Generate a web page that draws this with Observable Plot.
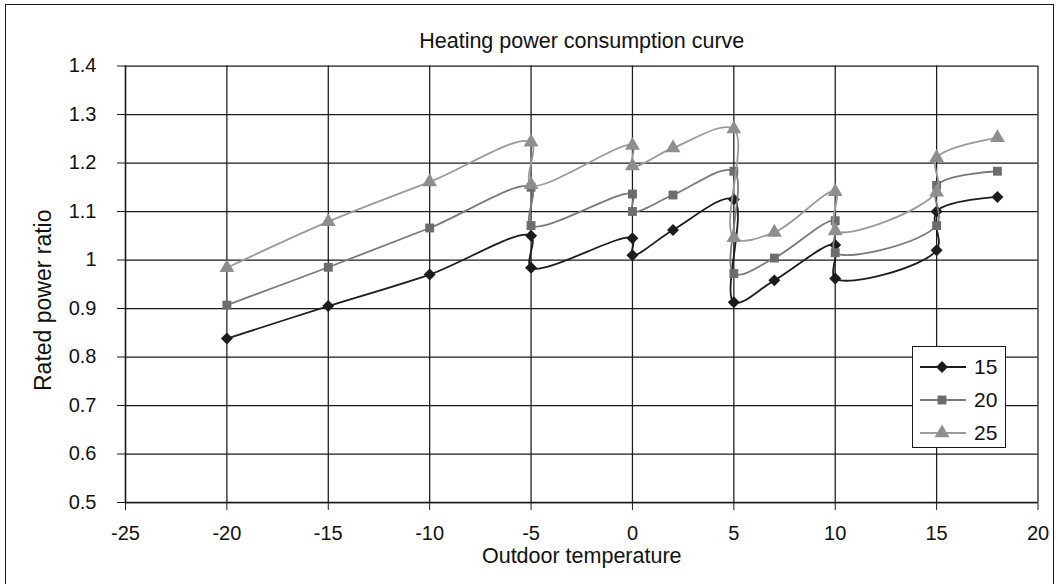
<!DOCTYPE html>
<html>
<head>
<meta charset="utf-8">
<script src="https://cdn.jsdelivr.net/npm/d3@7"></script>
<script src="https://cdn.jsdelivr.net/npm/@observablehq/plot@0.6"></script>
<style>
  html, body { margin: 0; padding: 0; background: #fff; }
  #wrap { position: relative; width: 1058px; height: 584px; overflow: hidden; background: #fff; }
  #border { position: absolute; left: 5px; top: 4px; width: 1047px; height: 700px; border: 1.5px solid #1a1a1a; pointer-events: none; }
  #legend { position: absolute; left: 912px; top: 346px; width: 92px; height: 100px; border: 1.5px solid #1a1a1a; background: #fff; }
</style>
</head>
<body>
<div id="wrap"><div id="border"></div></div>
<script>
// ---- data ----
const temps = [-20, -15, -10, -5, -5, 0, 0, 2, 5, 5, 7, 10, 10, 15, 15, 18];
const ratio15 = [0.838, 0.905, 0.970, 1.050, 0.984, 1.045, 1.010, 1.062, 1.125, 0.913, 0.958, 1.031, 0.962, 1.020, 1.100, 1.130];
const ratio20 = [0.907, 0.985, 1.066, 1.150, 1.071, 1.136, 1.100, 1.134, 1.183, 0.972, 1.004, 1.081, 1.015, 1.071, 1.154, 1.183];
const ratio25 = [0.984, 1.079, 1.161, 1.243, 1.155, 1.236, 1.194, 1.231, 1.270, 1.046, 1.057, 1.141, 1.060, 1.140, 1.211, 1.252];
const seriesNames = ["15", "20", "25"];
const seriesValues = [ratio15, ratio20, ratio25];
const lineColors = ["#1c1c1c", "#7a7a7a", "#9a9a9a"];
const markerColors = ["#1c1c1c", "#6c6c6c", "#8e8e8e"];
const symbols = ["diamond2", "square", "triangle"];
const markerR = [5.4, 5.0, 5.5];
const xTicks = [-25, -20, -15, -10, -5, 0, 5, 10, 15, 20];
const yTicks = [0.5, 0.6, 0.7, 0.8, 0.9, 1.0, 1.1, 1.2, 1.3, 1.4];
const title = "Heating power consumption curve";
const xLabel = "Outdoor temperature";
const yLabel = "Rated power ratio";

const rows = seriesNames.flatMap((s, i) => temps.map((t, j) => ({series: s, t, v: seriesValues[i][j]})));

const font = "'Liberation Sans', Arial, Helvetica, sans-serif";
const seriesMarks = seriesNames.flatMap((s, i) => {
  const data = rows.filter(d => d.series === s);
  return [
    Plot.line(data, {x: "t", y: "v", stroke: lineColors[i], strokeWidth: 1.8, curve: "catmull-rom"}),
    Plot.dot(data, {x: "t", y: "v", fill: markerColors[i], stroke: "none", symbol: () => symbols[i], r: markerR[i]})
  ];
});

const chart = Plot.plot({
  width: 1058,
  height: 584,
  marginLeft: 125,
  marginRight: 20.5,
  marginTop: 65.5,
  marginBottom: 82,
  style: {fontFamily: font, fontSize: "20px", color: "#111", background: "transparent"},
  x: {domain: [-25, 20], ticks: xTicks},
  y: {domain: [0.5, 1.4], ticks: yTicks},
  symbol: {type: "identity"},
  marks: [
    Plot.gridY(yTicks, {stroke: "#1a1a1a", strokeOpacity: 1, strokeWidth: 1.25}),
    Plot.gridX(xTicks, {stroke: "#1a1a1a", strokeOpacity: 1, strokeWidth: 1.25}),
    Plot.ruleX([-25], {stroke: "#1a1a1a", strokeWidth: 1.4}),
    Plot.ruleY([0.5], {stroke: "#1a1a1a", strokeWidth: 1.4}),
    Plot.axisY(yTicks, {tickSize: 8, tickPadding: 21, fontSize: 20, label: null, tickFormat: d => String(+d.toFixed(1)), stroke: "#1a1a1a"}),
    Plot.axisX(xTicks, {tickSize: 8, tickPadding: 15, fontSize: 20, label: null, tickFormat: d => String(d), stroke: "#1a1a1a"}),
    ...seriesMarks,
    Plot.text([title], {frameAnchor: "top", dy: -33, fontSize: 21.5, fill: "#111"}),
    Plot.text([xLabel], {frameAnchor: "bottom", dy: 60, fontSize: 21.5, fill: "#111"}),
    Plot.text([yLabel], {frameAnchor: "left", dx: -82, dy: 16, rotate: -90, textAnchor: "middle", lineAnchor: "middle", fontSize: 23, fill: "#111"})
  ]
});
chart.style.position = "absolute";
chart.style.left = "0px";
chart.style.top = "0px";
const wrap = document.getElementById("wrap");
wrap.insertBefore(chart, wrap.firstChild);

// ---- legend ----
const legend = d3.select(wrap).append("div").attr("id", "legend");
const lsvg = legend.append("svg").attr("width", 92).attr("height", 100).style("font-family", font);
const symMap = {diamond2: d3.symbolDiamond2, square: d3.symbolSquare, triangle: d3.symbolTriangle};
seriesNames.forEach((s, i) => {
  const g = lsvg.append("g").attr("transform", `translate(0,${20 + i * 33})`);
  g.append("line").attr("x1", 7).attr("x2", 53).attr("y1", 0).attr("y2", 0)
    .attr("stroke", lineColors[i]).attr("stroke-width", 1.8);
  g.append("path").attr("transform", "translate(29,0)")
    .attr("d", d3.symbol(symMap[symbols[i]], Math.PI * markerR[i] * markerR[i])())
    .attr("fill", markerColors[i]);
  g.append("text").attr("x", 61).attr("y", 0).attr("dy", "0.35em")
    .attr("font-size", 21).attr("fill", "#111").text(s);
});
</script>
</body>
</html>
